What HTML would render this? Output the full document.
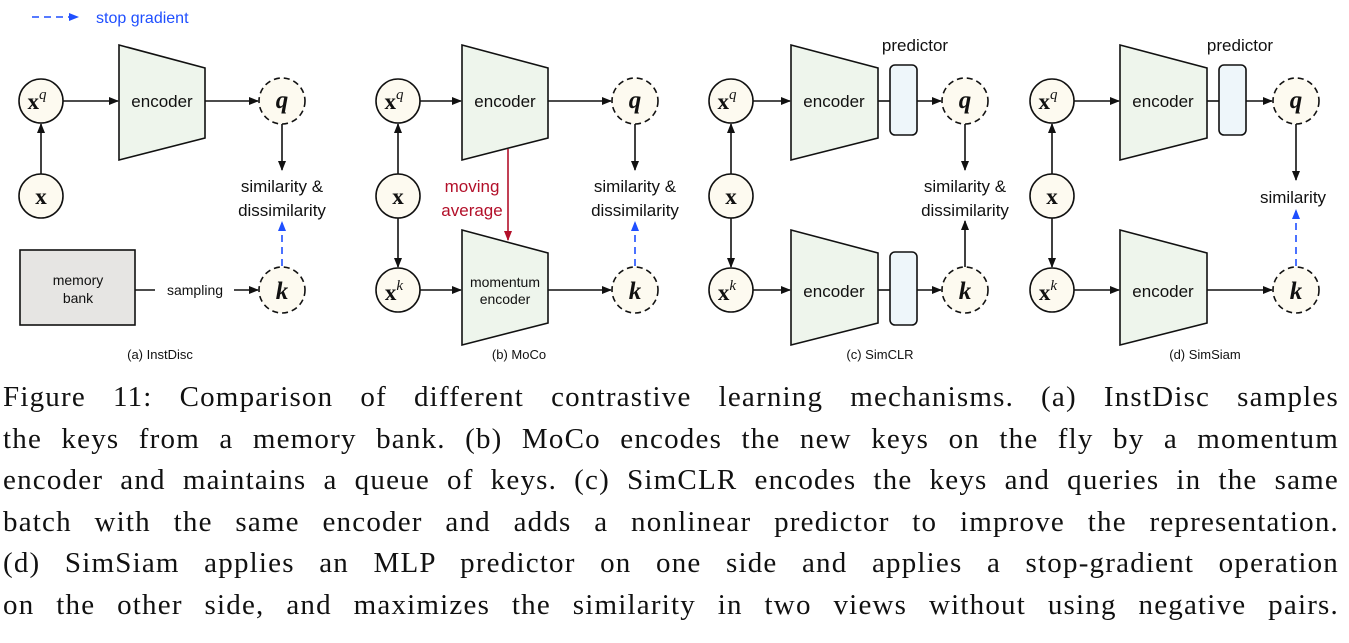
<!DOCTYPE html>
<html><head><meta charset="utf-8"><style>
body{margin:0;width:1349px;height:643px;background:#fff;overflow:hidden;position:relative}
svg{position:absolute;left:0;top:0}
.cap{position:absolute;left:3px;width:1336px;font-family:"Liberation Serif",serif;font-size:29px;letter-spacing:1.2px;line-height:41.6px;top:377px;color:#111}
.cap div{text-align:justify;text-align-last:justify;white-space:nowrap}
</style></head><body>
<svg width="1349" height="370" viewBox="0 0 1349 370" font-family="Liberation Sans, sans-serif">
<defs>
<marker id="a" markerWidth="10" markerHeight="8" refX="9" refY="4" orient="auto" markerUnits="userSpaceOnUse"><path d="M0,0 L10,4 L0,8z" fill="#111"/></marker>
<marker id="b" markerWidth="10" markerHeight="8" refX="9" refY="4" orient="auto" markerUnits="userSpaceOnUse"><path d="M0,0 L10,4 L0,8z" fill="#1f4fff"/></marker>
<marker id="r" markerWidth="10" markerHeight="8" refX="9" refY="4" orient="auto" markerUnits="userSpaceOnUse"><path d="M0,0 L10,4 L0,8z" fill="#b3102a"/></marker>
</defs>
<line x1="32" y1="17" x2="78" y2="17" stroke="#1f4fff" stroke-width="1.6" stroke-dasharray="7,5" marker-end="url(#b)"/>
<text x="96" y="23" font-size="16" fill="#1f4fff">stop gradient</text>

<g stroke="#111" stroke-width="1.6">
<polygon points="119,45 205,68 205,138 119,160" fill="#eef5ec"/>
<rect x="20" y="250" width="115" height="75" fill="#e6e5e3"/>
<polygon points="462,45 548,68 548,138 462,160" fill="#eef5ec"/>
<polygon points="462,230 548,253 548,323 462,345" fill="#eef5ec"/>
<polygon points="791,45 878,68 878,138 791,160" fill="#eef5ec"/>
<polygon points="791,230 878,253 878,323 791,345" fill="#eef5ec"/>
<rect x="890" y="65" width="27" height="70" rx="5" fill="#eef6fa"/>
<rect x="890" y="252" width="27" height="73" rx="5" fill="#eef6fa"/>
<polygon points="1120,45 1207,68 1207,138 1120,160" fill="#eef5ec"/>
<polygon points="1120,230 1207,253 1207,323 1120,345" fill="#eef5ec"/>
<rect x="1219" y="65" width="27" height="70" rx="5" fill="#eef6fa"/>
</g>

<g stroke="#111" stroke-width="1.6" fill="#fdfaf0">
<circle cx="41" cy="101" r="22"/><circle cx="41" cy="196" r="22"/>
<circle cx="398" cy="101" r="22"/><circle cx="398" cy="196" r="22"/><circle cx="398" cy="290" r="22"/>
<circle cx="731" cy="101" r="22"/><circle cx="731" cy="196" r="22"/><circle cx="731" cy="290" r="22"/>
<circle cx="1052" cy="101" r="22"/><circle cx="1052" cy="196" r="22"/><circle cx="1052" cy="290" r="22"/>
</g>
<g stroke="#111" stroke-width="1.6" fill="#fdfaf0" stroke-dasharray="6,4">
<circle cx="282" cy="101" r="23"/><circle cx="282" cy="290" r="23"/>
<circle cx="635" cy="101" r="23"/><circle cx="635" cy="290" r="23"/>
<circle cx="965" cy="101" r="23"/><circle cx="965" cy="290" r="23"/>
<circle cx="1296" cy="101" r="23"/><circle cx="1296" cy="290" r="23"/>
</g>

<g stroke="#111" stroke-width="1.6" fill="none" marker-end="url(#a)">
<line x1="41" y1="174" x2="41" y2="124"/>
<line x1="63" y1="101" x2="118" y2="101"/>
<line x1="205" y1="101" x2="258" y2="101"/>
<line x1="282" y1="124" x2="282" y2="170"/>
<line x1="234" y1="290" x2="258" y2="290"/>
<line x1="398" y1="174" x2="398" y2="124"/>
<line x1="398" y1="218" x2="398" y2="267"/>
<line x1="420" y1="101" x2="461" y2="101"/>
<line x1="420" y1="290" x2="461" y2="290"/>
<line x1="548" y1="101" x2="611" y2="101"/>
<line x1="548" y1="290" x2="611" y2="290"/>
<line x1="635" y1="124" x2="635" y2="170"/>
<line x1="731" y1="174" x2="731" y2="124"/>
<line x1="731" y1="218" x2="731" y2="267"/>
<line x1="753" y1="101" x2="790" y2="101"/>
<line x1="753" y1="290" x2="790" y2="290"/>
<line x1="917" y1="101" x2="941" y2="101"/>
<line x1="917" y1="290" x2="941" y2="290"/>
<line x1="965" y1="124" x2="965" y2="170"/>
<line x1="965" y1="267" x2="965" y2="221"/>
<line x1="1052" y1="174" x2="1052" y2="124"/>
<line x1="1052" y1="218" x2="1052" y2="267"/>
<line x1="1074" y1="101" x2="1119" y2="101"/>
<line x1="1074" y1="290" x2="1119" y2="290"/>
<line x1="1246" y1="101" x2="1272" y2="101"/>
<line x1="1207" y1="290" x2="1272" y2="290"/>
<line x1="1296" y1="124" x2="1296" y2="180"/>
</g>
<g stroke="#111" stroke-width="1.6">
<line x1="135" y1="290" x2="155" y2="290"/>
<line x1="878" y1="101" x2="890" y2="101"/>
<line x1="878" y1="290" x2="890" y2="290"/>
<line x1="1207" y1="101" x2="1219" y2="101"/>
</g>
<g stroke="#1f4fff" stroke-width="1.6" stroke-dasharray="7,5" marker-end="url(#b)">
<line x1="282" y1="266" x2="282" y2="222"/>
<line x1="635" y1="266" x2="635" y2="222"/>
<line x1="1296" y1="266" x2="1296" y2="210"/>
</g>
<line x1="508" y1="149" x2="508" y2="240" stroke="#b3102a" stroke-width="1.6" marker-end="url(#r)"/>

<g font-family="Liberation Serif, serif" font-weight="bold" font-size="23" fill="#111" text-anchor="middle">
<text x="37" y="109">x<tspan font-size="15" font-style="italic" font-weight="normal" dy="-10">q</tspan></text>
<text x="41" y="204">x</text>
<text x="394" y="109">x<tspan font-size="15" font-style="italic" font-weight="normal" dy="-10">q</tspan></text>
<text x="398" y="204">x</text>
<text x="394" y="300">x<tspan font-size="15" font-style="italic" font-weight="normal" dy="-10">k</tspan></text>
<text x="727" y="109">x<tspan font-size="15" font-style="italic" font-weight="normal" dy="-10">q</tspan></text>
<text x="731" y="204">x</text>
<text x="727" y="300">x<tspan font-size="15" font-style="italic" font-weight="normal" dy="-10">k</tspan></text>
<text x="1048" y="109">x<tspan font-size="15" font-style="italic" font-weight="normal" dy="-10">q</tspan></text>
<text x="1052" y="204">x</text>
<text x="1048" y="300">x<tspan font-size="15" font-style="italic" font-weight="normal" dy="-10">k</tspan></text>
<g font-style="italic" font-size="25">
<text x="282" y="108">q</text><text x="282" y="299">k</text>
<text x="635" y="108">q</text><text x="635" y="299">k</text>
<text x="965" y="108">q</text><text x="965" y="299">k</text>
<text x="1296" y="108">q</text><text x="1296" y="299">k</text>
</g>
</g>

<g font-size="17" fill="#111" text-anchor="middle">
<text x="162" y="107">encoder</text>
<text x="505" y="107">encoder</text>
<text x="834" y="107">encoder</text>
<text x="834" y="297">encoder</text>
<text x="1163" y="107">encoder</text>
<text x="1163" y="297">encoder</text>
<text x="505" y="287" font-size="14">momentum</text>
<text x="505" y="304" font-size="14">encoder</text>
<text x="78" y="285" font-size="14">memory</text>
<text x="78" y="303" font-size="14">bank</text>
<text x="195" y="295" font-size="14">sampling</text>
<text x="282" y="192">similarity &amp;</text><text x="282" y="216">dissimilarity</text>
<text x="635" y="192">similarity &amp;</text><text x="635" y="216">dissimilarity</text>
<text x="965" y="192">similarity &amp;</text><text x="965" y="216">dissimilarity</text>
<text x="1293" y="203">similarity</text>
<text x="915" y="51">predictor</text>
<text x="1240" y="51">predictor</text>
<text x="472" y="192" fill="#b3102a">moving</text>
<text x="472" y="216" fill="#b3102a">average</text>
<g font-size="13">
<text x="160" y="359">(a) InstDisc</text>
<text x="519" y="359">(b) MoCo</text>
<text x="880" y="359">(c) SimCLR</text>
<text x="1205" y="359">(d) SimSiam</text>
</g>
</g>
</svg>
<div class="cap">
<div>Figure 11: Comparison of different contrastive learning mechanisms. (a) InstDisc samples</div>
<div>the keys from a memory bank. (b) MoCo encodes the new keys on the fly by a momentum</div>
<div>encoder and maintains a queue of keys. (c) SimCLR encodes the keys and queries in the same</div>
<div>batch with the same encoder and adds a nonlinear predictor to improve the representation.</div>
<div>(d) SimSiam applies an MLP predictor on one side and applies a stop-gradient operation</div>
<div>on the other side, and maximizes the similarity in two views without using negative pairs.</div>
</div>
</body></html>
